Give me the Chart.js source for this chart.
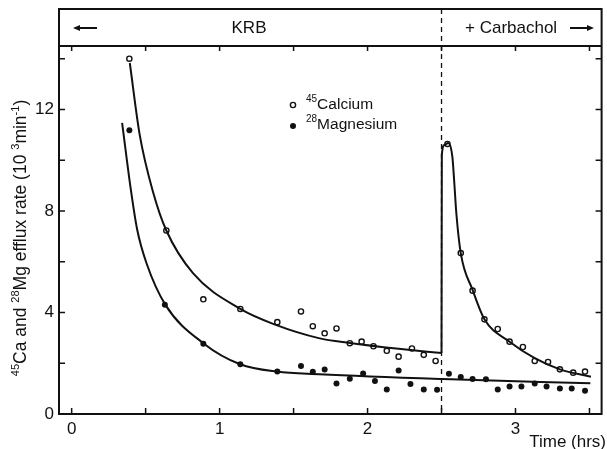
<!DOCTYPE html>
<html>
<head>
<meta charset="utf-8">
<script src="https://cdn.jsdelivr.net/npm/chart.js@4.4.1/dist/chart.umd.min.js"></script>
<style>
  html, body { margin: 0; padding: 0; background: #fff; }
  #wrap { width: 607px; height: 449px; }
</style>
</head>
<body>
<div id="wrap"><canvas id="effluxChart" width="607" height="449"></canvas></div>
<script>
// measured points (time in hrs, efflux rate in 10^-3 min^-1)
let caTime = [0.39, 0.64, 0.89, 1.14, 1.39, 1.55, 1.63, 1.71, 1.79, 1.88, 1.96, 2.04, 2.13, 2.21, 2.30, 2.38, 2.46,
  2.54, 2.63, 2.71, 2.79, 2.88, 2.96, 3.05, 3.13, 3.22, 3.30, 3.39, 3.47];
let caRate = [14.0, 7.23, 4.52, 4.14, 3.62, 4.04, 3.46, 3.18, 3.37, 2.79, 2.85, 2.67, 2.49, 2.26, 2.58, 2.33, 2.09,
  10.64, 6.34, 4.86, 3.73, 3.35, 2.85, 2.64, 2.09, 2.05, 1.76, 1.63, 1.67];

let mgTime = [0.39, 0.63, 0.89, 1.14, 1.39, 1.55, 1.63, 1.71, 1.79, 1.88, 1.97, 2.05, 2.13, 2.21, 2.29, 2.38, 2.47,
  2.55, 2.63, 2.71, 2.80, 2.88, 2.96, 3.04, 3.13, 3.21, 3.30, 3.38, 3.47];
let mgRate = [11.18, 4.30, 2.77, 1.96, 1.67, 1.89, 1.66, 1.75, 1.20, 1.39, 1.60, 1.30, 0.97, 1.71, 1.18, 0.97, 0.96,
  1.59, 1.46, 1.38, 1.37, 0.97, 1.08, 1.08, 1.20, 1.08, 1.00, 1.00, 0.92];

// hand drawn fit curves
let caFitTime = [0.393, 0.46, 0.55, 0.64, 0.82, 1.14, 1.38, 1.67, 1.88, 2.21, 2.50];
let caFitRate = [13.83, 11.0, 8.75, 7.23, 5.55, 4.14, 3.51, 2.99, 2.80, 2.57, 2.40];
let caCarbTime = [2.50, 2.502, 2.52, 2.545, 2.573, 2.585, 2.60, 2.63, 2.71, 2.79, 2.96, 3.13, 3.30, 3.51];
let caCarbRate = [2.40, 10.2, 10.6, 10.68, 10.15, 9.23, 7.92, 6.34, 4.89, 3.73, 2.85, 2.20, 1.76, 1.47];
let mgFitTime = [0.341, 0.40, 0.443, 0.506, 0.634, 0.894, 1.139, 1.387, 1.674, 2.506, 3.506];
let mgFitRate = [11.47, 8.84, 7.26, 5.94, 4.30, 2.77, 1.96, 1.67, 1.57, 1.38, 1.21];

let carbacholStart = 2.5;
let xTickValues = [0, 0.5, 1, 1.5, 2, 2.5, 3, 3.5];
let xTickLabels = [0, 1, 2, 3];
let yTickValues = [0, 2, 4, 6, 8, 10, 12, 14];
let yTickLabels = [0, 4, 8, 12];

const FONT = "'Liberation Sans', Arial, sans-serif";
const INK = "#111";

function toXY(xs, ys) {
  return xs.map((x, i) => ({ x: x, y: ys[i] }));
}

// draw text made of normal and superscript pieces, starting at x
function richText(ctx, parts, x, y, size, supSize) {
  let cx = x;
  parts.forEach(p => {
    ctx.font = (p.sup ? supSize : size) + "px " + FONT;
    ctx.fillText(p.t, cx, p.sup ? y - size * 0.42 : y);
    cx += ctx.measureText(p.t).width;
  });
  return cx;
}

function richWidth(ctx, parts, size, supSize) {
  let w = 0;
  parts.forEach(p => {
    ctx.font = (p.sup ? supSize : size) + "px " + FONT;
    w += ctx.measureText(p.t).width;
  });
  return w;
}

function arrow(ctx, x1, x2, y) {
  let dir = x2 > x1 ? 1 : -1;
  ctx.beginPath();
  ctx.moveTo(x1, y);
  ctx.lineTo(x2 - dir * 4, y);
  ctx.stroke();
  ctx.beginPath();
  ctx.moveTo(x2, y);
  ctx.lineTo(x2 - dir * 7, y - 3);
  ctx.lineTo(x2 - dir * 7, y + 3);
  ctx.closePath();
  ctx.fill();
}

const framePlugin = {
  id: "frame",
  beforeDatasetsDraw(chart) {
    let ctx = chart.ctx;
    let a = chart.chartArea;
    let xs = chart.scales.x;
    let ys = chart.scales.y;
    let boxTop = 9;
    ctx.save();
    ctx.strokeStyle = INK;
    ctx.lineWidth = 2;
    // outer box + header divider
    ctx.strokeRect(a.left, boxTop, a.right - a.left, a.bottom - boxTop);
    ctx.beginPath();
    ctx.moveTo(a.left, a.top);
    ctx.lineTo(a.right, a.top);
    ctx.stroke();

    // inward ticks on all four sides
    ctx.lineWidth = 1.5;
    xs.ticks.forEach(t => {
      let px = xs.getPixelForValue(t.value);
      ctx.beginPath();
      ctx.moveTo(px, a.bottom);
      ctx.lineTo(px, a.bottom - 6);
      ctx.moveTo(px, a.top);
      ctx.lineTo(px, a.top + 5);
      ctx.stroke();
    });
    ys.ticks.forEach(t => {
      let py = ys.getPixelForValue(t.value);
      ctx.beginPath();
      ctx.moveTo(a.left, py);
      ctx.lineTo(a.left + 6, py);
      ctx.moveTo(a.right, py);
      ctx.lineTo(a.right - 6, py);
      ctx.stroke();
    });

    // carbachol added
    let cx = xs.getPixelForValue(carbacholStart);
    ctx.lineWidth = 1.3;
    ctx.setLineDash([5, 4]);
    ctx.beginPath();
    ctx.moveTo(cx, boxTop);
    ctx.lineTo(cx, a.bottom);
    ctx.stroke();
    ctx.restore();
  },
  afterDatasetsDraw(chart) {
    let ctx = chart.ctx;
    ctx.save();
    ctx.fillStyle = INK;
    ctx.strokeStyle = INK;
    ctx.lineWidth = 2;
    ctx.textBaseline = "middle";

    // header band
    let hy = 28;
    ctx.font = "17px " + FONT;
    ctx.textAlign = "center";
    ctx.fillText("KRB", 249, hy);
    ctx.textAlign = "left";
    ctx.fillText("+ Carbachol", 465, hy);
    arrow(ctx, 97, 73, hy);
    arrow(ctx, 570, 594, hy);

    // legend
    ctx.textBaseline = "alphabetic";
    ctx.lineWidth = 1.4;
    ctx.beginPath();
    ctx.arc(293, 105, 2.6, 0, Math.PI * 2);
    ctx.fillStyle = "#fff";
    ctx.fill();
    ctx.stroke();
    ctx.fillStyle = INK;
    ctx.beginPath();
    ctx.arc(293, 126, 3, 0, Math.PI * 2);
    ctx.fill();
    richText(ctx, [{ t: "45", sup: true }, { t: "Calcium" }], 306, 109, 15.5, 10);
    richText(ctx, [{ t: "28", sup: true }, { t: "Magnesium" }], 306, 129, 15.5, 10);

    // x title
    ctx.font = "17px " + FONT;
    ctx.textAlign = "right";
    ctx.fillText("Time (hrs)", 606, 447);

    // y title, rotated
    let parts = [
      { t: "45", sup: true }, { t: "Ca and " }, { t: "28", sup: true }, { t: "Mg efflux rate (10 " },
      { t: "3", sup: true }, { t: "min" }, { t: "-1", sup: true }, { t: ")" }
    ];
    ctx.textAlign = "left";
    let w = richWidth(ctx, parts, 17.5, 11);
    ctx.translate(26, 238);
    ctx.rotate(-Math.PI / 2);
    richText(ctx, parts, -w / 2, 0, 17.5, 11);
    ctx.restore();
  }
};

let ctx = document.getElementById("effluxChart").getContext("2d");

let fitLine = {
  showLine: true,
  pointRadius: 0,
  borderColor: INK,
  borderWidth: 2,
  cubicInterpolationMode: "monotone",
  fill: false,
};

let myChart = new Chart(ctx, {
  type: "scatter",
  data: {
    datasets: [
      Object.assign({ label: "Ca fit KRB", data: toXY(caFitTime, caFitRate) }, fitLine),
      Object.assign({ label: "Ca fit carbachol", data: toXY(caCarbTime, caCarbRate) }, fitLine),
      Object.assign({ label: "Mg fit", data: toXY(mgFitTime, mgFitRate) }, fitLine),
      {
        label: "45Calcium",
        data: toXY(caTime, caRate),
        pointRadius: 2.6,
        pointBorderWidth: 1.4,
        pointBackgroundColor: "#fff",
        pointBorderColor: INK,
      },
      {
        label: "28Magnesium",
        data: toXY(mgTime, mgRate),
        pointRadius: 3,
        pointBorderWidth: 0,
        pointBackgroundColor: INK,
        pointBorderColor: INK,
      },
    ],
  },
  options: {
    responsive: false,
    animation: false,
    events: [],
    layout: { padding: { top: 46, right: 4, bottom: 0, left: 0 } },
    plugins: {
      legend: { display: false },
      tooltip: { enabled: false },
    },
    scales: {
      x: {
        type: "linear",
        min: -0.0856,
        max: 3.582,
        grid: { display: false, drawTicks: false },
        border: { display: false },
        afterBuildTicks: (s) => { s.ticks = xTickValues.map(v => ({ value: v })); },
        ticks: {
          autoSkip: false,
          maxRotation: 0,
          padding: 5,
          color: INK,
          font: { family: FONT, size: 17 },
          callback: (v) => (xTickLabels.includes(v) ? String(v) : ""),
        },
        afterFit: (s) => { s.height = 35; },
      },
      y: {
        min: 0,
        max: 14.5,
        grid: { display: false, drawTicks: false },
        border: { display: false },
        afterBuildTicks: (s) => { s.ticks = yTickValues.map(v => ({ value: v })); },
        ticks: {
          autoSkip: false,
          padding: 5,
          color: INK,
          font: { family: FONT, size: 17 },
          callback: (v) => (yTickLabels.includes(v) ? String(v) : ""),
        },
        afterFit: (s) => { s.width = 59; },
      },
    },
  },
  plugins: [framePlugin],
});
</script>
</body>
</html>
